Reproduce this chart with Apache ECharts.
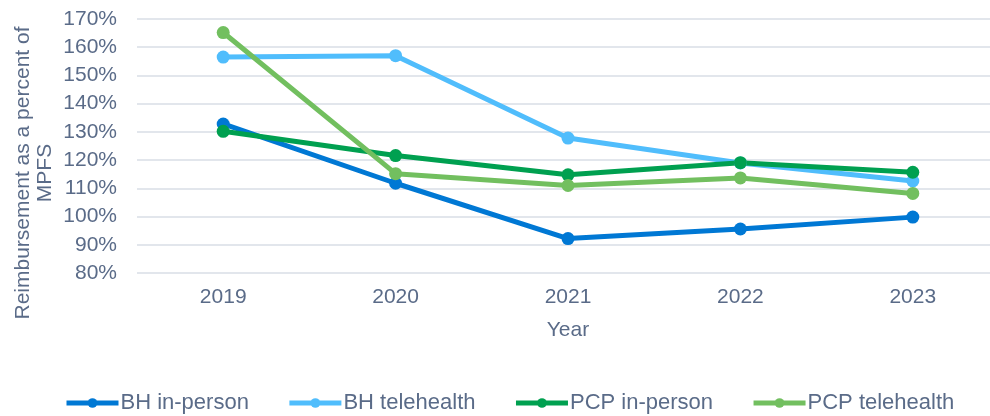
<!DOCTYPE html>
<html>
<head>
<meta charset="utf-8">
<script src="https://cdn.jsdelivr.net/npm/echarts@6/dist/echarts.min.js"></script>
<style>
  html, body { margin: 0; padding: 0; background: #fff; }
  #chart { width: 990px; height: 416px; }
</style>
</head>
<body>
<div id="chart"></div>
<script>
var years = ['2019', '2020', '2021', '2022', '2023'];
var bhInPerson = [132.8, 111.8, 92.2, 95.6, 99.8];
var bhTelehealth = [156.5, 157.0, 127.8, 119.0, 112.6];
var pcpInPerson = [130.2, 121.6, 114.8, 119.1, 115.7];
var pcpTelehealth = [165.2, 115.2, 111.0, 113.7, 108.2];

var textColor = '#5a6b88';
var font = 'Liberation Sans, Arial, sans-serif';

function makeSeries(name, data, color) {
    return {
        name: name,
        type: 'line',
        data: data,
        symbol: 'circle',
        symbolSize: 13,
        lineStyle: { width: 5, color: color },
        itemStyle: { color: color },
        emphasis: { disabled: true }
    };
}

var myChart = echarts.init(document.getElementById('chart'));
var option = {
    animation: false,
    grid: { left: 137, width: 862, top: 19, height: 254, outerBoundsMode: 'none' },
    xAxis: {
        type: 'category',
        data: years,
        boundaryGap: true,
        axisLine: { show: false },
        axisTick: { show: false },
        axisLabel: { color: textColor, fontSize: 21, fontFamily: font, margin: 14 },
        name: 'Year',
        nameLocation: 'middle',
        nameGap: 47,
        nameTextStyle: { color: textColor, fontSize: 21, fontFamily: font }
    },
    yAxis: {
        type: 'value',
        min: 80,
        max: 170,
        interval: 10,
        axisLine: { show: false },
        axisTick: { show: false },
        axisLabel: { color: textColor, fontSize: 21, fontFamily: font, margin: 20, formatter: '{value}%' },
        splitLine: { lineStyle: { color: '#d9dee6', width: 1.5 } }
    },
    legend: {
        left: 59,
        top: 387,
        itemWidth: 52,
        itemHeight: 12,
        itemGap: 38,
        lineStyle: { width: 5 },
        textStyle: { color: textColor, fontSize: 22, fontFamily: font, padding: [0, 0, 0, -3] },
        data: ['BH in-person', 'BH telehealth', 'PCP in-person', 'PCP telehealth']
    },
    graphic: [{
        type: 'text',
        x: 34,
        y: 173,
        rotation: Math.PI / 2,
        style: {
            text: 'Reimbursement as a percent of\nMPFS',
            fill: textColor,
            font: '21px ' + font,
            align: 'center',
            verticalAlign: 'middle',
            lineHeight: 22
        }
    }],
    series: [
        makeSeries('BH in-person', bhInPerson, '#0078d4'),
        makeSeries('BH telehealth', bhTelehealth, '#50bdfc'),
        makeSeries('PCP in-person', pcpInPerson, '#00a050'),
        makeSeries('PCP telehealth', pcpTelehealth, '#72bf5f')
    ]
};
myChart.setOption(option);
</script>
</body>
</html>
